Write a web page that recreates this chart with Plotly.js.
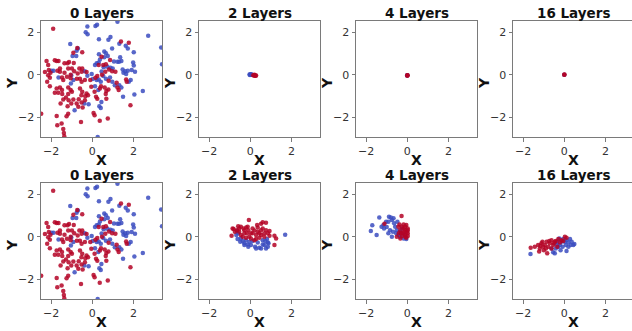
<!DOCTYPE html>
<html>
<head>
<meta charset="utf-8">
<script src="https://cdn.plot.ly/plotly-3.0.1.min.js"></script>
<style>html,body{margin:0;padding:0;background:#fff;}#chart{width:632px;height:331px;}</style>
</head>
<body>
<div id="chart"></div>
<script>
// ---- data ----
const panelTitles = ["0 Layers", "2 Layers", "4 Layers", "16 Layers", "0 Layers", "2 Layers", "4 Layers", "16 Layers"];
const xAxisTitle = "X";
const yAxisTitle = "Y";
const xTicks = [-2, 0, 2];
const yTicks = [-2, 0, 2];

// 0 Layers (input data, shown in both rows)
const l0BlueX = [1.22,-0.24,0.15,0.23,-0.32,-0.23,2.71,0.88,0.78,0.32,3.34,-1.07,-0.70,1.31,1.62,1.72,0.96,2.01,-0.76,-0.96,-0.78,0.58,0.66,0.32,0.75,0.58,0.37,1.35,1.22,1.30,1.41,1.98,2.01,3.38,-1.88,-0.37,0.21,0.13,0.31,0.73,0.88,0.99,1.47,1.59,1.72,1.91,2.07,1.51,1.64,-1.64,-1.02,-0.92,-0.24,-0.03,0.02,0.21,0.31,0.41,0.53,0.66,0.86,0.97,1.09,1.31,1.41,1.77,1.86,2.45,2.04,1.49,0.13,0.29,0.44,0.41,0.34,-0.39,-0.18,-0.86,0.26,-1.98,-1.04,0.55,1.05,0.45];
const l0BlueY = [2.50,2.27,2.30,2.35,2.00,1.91,1.83,1.78,1.65,1.67,1.28,1.45,1.24,1.46,1.37,1.24,1.24,1.06,1.13,0.88,0.88,1.09,1.01,0.96,0.88,0.82,0.72,0.82,0.61,0.61,0.65,0.58,0.44,0.49,0.19,0.17,0.54,0.46,0.58,0.38,0.33,0.30,0.25,0.17,0.19,0.22,0.14,0.09,0.03,-0.13,-0.03,-0.25,-0.05,0.03,-0.20,-0.25,-0.22,-0.33,-0.06,-0.19,-0.13,-0.33,-0.49,-0.49,-0.60,-0.33,-0.25,-0.76,-0.93,-1.04,-0.54,-0.72,-1.28,-1.56,-1.48,-1.35,-1.39,-1.67,-2.93,0.19,-0.41,0.35,0.62,0.15];
const l0RedX = [-1.90,1.39,1.77,-0.73,-0.92,-0.49,0.45,0.86,-2.22,-1.82,-1.73,-1.64,-2.14,-1.35,-1.20,-1.13,-0.63,-0.49,0.31,0.53,0.66,0.81,0.96,1.12,-2.30,-2.11,-2.03,-2.14,-2.06,-2.19,-2.06,-1.57,-1.57,-1.69,-1.47,-1.41,-1.23,-1.05,-0.75,-0.60,-1.17,-0.99,-0.88,-0.71,-0.52,-0.28,-0.36,-0.52,-0.10,0.15,0.24,0.47,0.63,0.79,1.18,1.22,1.28,1.64,1.67,1.85,0.42,0.37,0.60,0.68,0.78,-0.05,0.11,-1.73,-1.57,-1.47,-1.65,-1.82,-1.46,-1.17,-1.05,-0.99,-1.17,-0.60,-0.49,-0.53,-0.28,-0.21,-0.34,0.18,0.24,0.65,0.68,-0.92,-1.15,-1.02,-0.66,-0.52,-0.36,-0.76,-1.54,-1.20,-0.68,-0.47,-1.41,-1.28,0.06,0.11,0.36,0.75,-0.55,-1.17,-1.25,-1.73,-1.49,-1.70,-1.41,-1.38,-1.36,-2.48,-0.90,-1.05,-1.35];
const l0RedY = [2.16,1.56,1.51,1.26,1.04,1.06,0.85,0.69,0.65,0.68,0.65,0.65,0.46,0.54,0.54,0.60,0.30,0.30,0.46,0.46,0.50,0.25,0.17,0.14,0.13,0.22,0.09,-0.02,-0.14,-0.33,-0.54,0.30,0.14,0.19,-0.13,-0.25,-0.09,-0.17,-0.19,-0.19,0.30,0.30,0.17,0.06,0.14,0.13,-0.25,-0.33,-0.25,-0.14,-0.06,0.00,0.14,-0.28,-0.38,-0.60,-0.72,-0.22,-0.33,-1.43,-0.54,-0.65,-0.60,-0.76,-0.69,-0.57,-0.80,-0.65,-0.60,-0.72,-0.85,-0.85,-0.91,-0.60,-0.72,-0.80,-0.91,-0.65,-0.80,-0.96,-0.88,-0.96,-1.01,-1.04,-1.13,-0.91,-1.13,-1.17,-1.20,-1.35,-1.15,-1.31,-1.20,-1.35,-1.35,-1.48,-1.51,-1.54,-1.17,-1.07,-1.80,-1.91,-2.17,-2.06,-2.22,-1.83,-1.95,-1.94,-2.30,-2.38,-2.55,-2.74,-2.90,-1.83,0.55,0.00,0.10];

// Top row (collapsed representations)
const t2BlueX = [-0.04,0.00,0.03,0.06,-0.02,0.08];
const t2BlueY = [0.01,0.02,0.00,0.01,-0.01,0.00];
const t2RedX = [0.14,0.18,0.22,0.25,0.20,0.28];
const t2RedY = [-0.02,-0.04,-0.03,-0.05,0.00,-0.04];
const t4BlueX = [0.00,-0.01];
const t4BlueY = [-0.02,-0.03];
const t4RedX = [0.00,0.01,0.00];
const t4RedY = [-0.03,-0.02,-0.04];
const t16BlueX = [0.00];
const t16BlueY = [0.00];
const t16RedX = [0.00,0.01];
const t16RedY = [0.00,0.01];

// Bottom row
const b2BlueX = [-0.46,-0.37,-0.49,-0.29,-0.13,0.03,0.23,0.44,0.52,0.68,0.85,0.88,0.81,0.60,0.36,0.11,-0.05,-0.21,-0.62,-0.68,1.69,0.28,-0.29,-0.10,0.60,0.76,0.85,0.72,-0.59,-0.65];
const b2BlueY = [-0.08,-0.20,-0.24,-0.31,-0.36,-0.39,-0.47,-0.52,-0.55,-0.39,-0.47,-0.31,-0.11,-0.16,-0.27,-0.20,-0.24,-0.16,-0.11,0.08,0.10,-0.55,-0.39,-0.47,-0.36,-0.55,-0.27,-0.20,0.16,0.27];
const b2RedX = [-0.07,-0.91,-0.81,-0.86,-0.59,-0.46,-0.20,-0.13,0.33,0.52,0.60,0.76,0.93,0.93,1.17,1.25,1.17,0.20,0.36,0.03,-0.29,-0.37,0.52,0.68,0.76,-0.54,-0.65,-0.10,0.11,0.28,0.44,-0.05,-0.21,-0.46,-0.75,0.03,0.20,0.52,0.68,0.85,-0.54,-0.29,0.11,0.36,0.60,-0.16,-0.33,0.28,0.44];
const b2RedY = [0.79,0.05,0.36,0.39,0.50,0.47,0.43,0.47,0.55,0.61,0.68,0.66,0.27,0.05,0.05,-0.08,-0.39,0.30,0.24,0.16,0.16,0.00,0.08,0.16,0.31,0.24,0.31,0.31,0.39,0.08,-0.05,0.00,-0.05,0.08,0.24,-0.08,-0.16,0.31,0.00,0.16,0.39,0.31,0.16,0.43,0.39,0.16,0.39,-0.11,0.16];
const b4BlueX = [-1.36,-1.70,-1.77,-1.49,-1.16,-1.13,-1.00,-0.92,-0.89,-0.80,-0.75,-0.67,-0.84,-0.70,-0.59,-0.54,-0.75,-0.43,-0.34,-0.26,-0.18,-0.05,-1.03,-1.25,-0.64,-0.51,-0.92,-0.34,-0.15,-0.48];
const b4BlueY = [0.91,0.54,0.27,0.08,0.55,0.39,0.46,0.71,0.94,0.91,0.79,0.87,0.31,0.24,0.47,0.16,0.00,0.08,0.24,0.39,-0.08,-0.11,0.71,0.47,0.63,0.31,0.16,0.00,0.11,0.71];
const b4RedX = [-0.28,-1.11,-0.38,-0.43,-0.26,-0.18,-0.34,-0.10,-0.02,-0.21,0.02,-0.10,0.02,-0.26,-0.51,-0.34,-0.05,-0.15,-0.10,0.02,-0.18,-0.05,-0.31,-0.41,0.02,-0.10];
const b4RedY = [0.98,0.61,0.58,0.47,0.47,0.39,0.31,0.31,0.24,0.16,0.16,0.08,0.03,0.03,0.00,-0.08,-0.05,0.24,0.47,0.39,0.58,0.55,0.16,0.16,0.31,0.00];
const b16BlueX = [-1.64,-0.54,-0.46,-0.62,-0.37,-0.29,-0.21,-0.13,-0.05,0.03,0.11,0.20,0.28,0.36,0.44,0.49,0.11,-0.24,-0.41,-0.08,0.20,0.31,0.08,-0.18,-0.34];
const b16BlueY = [-0.81,-0.73,-0.78,-0.55,-0.36,-0.47,-0.39,-0.23,-0.11,-0.23,-0.16,-0.27,-0.11,-0.23,-0.39,-0.34,-0.67,-0.08,-0.55,-0.47,-0.47,-0.39,-0.39,-0.63,-0.23];
const b16RedX = [-1.63,-1.43,-1.27,-1.19,-1.22,-1.11,-1.02,-0.94,-0.86,-0.83,-0.70,-0.62,-0.54,-0.46,-0.34,-0.21,-0.13,0.03,0.11,-1.15,-0.99,-0.78,-0.62,-0.41,-0.29,-0.73,-0.50,-0.89,-0.05,-1.06];
const b16RedY = [-0.52,-0.47,-0.39,-0.55,-0.70,-0.31,-0.47,-0.39,-0.23,-0.78,-0.31,-0.16,-0.39,-0.23,-0.47,-0.27,-0.16,0.00,-0.05,-0.42,-0.63,-0.47,-0.55,-0.20,-0.11,-0.20,-0.31,-0.55,-0.20,-0.23];

const panels = [
  [l0BlueX, l0BlueY, l0RedX, l0RedY],
  [t2BlueX, t2BlueY, t2RedX, t2RedY],
  [t4BlueX, t4BlueY, t4RedX, t4RedY],
  [t16BlueX, t16BlueY, t16RedX, t16RedY],
  [l0BlueX, l0BlueY, l0RedX, l0RedY],
  [b2BlueX, b2BlueY, b2RedX, b2RedY],
  [b4BlueX, b4BlueY, b4RedX, b4RedY],
  [b16BlueX, b16BlueY, b16RedX, b16RedY]
];

// ---- layout ----
const W = 632, H = 331;
const colPx = [[41,162],[199,320],[356,477],[513,632]];
const rowPx = [[21,137],[183,299]];
const BLUE = "#3b4cc0", RED = "#b40426";
const FONT = "DejaVu Sans, Arial, sans-serif";

const traces = [];
const layout = {
  width: W, height: H,
  margin: {l:0, r:0, t:0, b:0},
  paper_bgcolor: "#fff", plot_bgcolor: "#fff",
  showlegend: false,
  font: {family: FONT, size: 11, color: "#222"},
  annotations: []
};

panels.forEach((p, i) => {
  const n = i + 1;
  const r = Math.floor(i / 4), c = i % 4;
  const xa = "x" + (n === 1 ? "" : n), ya = "y" + (n === 1 ? "" : n);
  [[p[0], p[1], BLUE], [p[2], p[3], RED]].forEach(s => {
    traces.push({
      type: "scatter", mode: "markers", x: s[0], y: s[1],
      xaxis: xa, yaxis: ya,
      marker: {color: s[2], size: 4.5, opacity: 0.85, line: {width: 0}},
      hoverinfo: "skip"
    });
  });
  const xd = [colPx[c][0] / W, Math.min(1, colPx[c][1] / W)];
  const yd = [1 - rowPx[r][1] / H, 1 - rowPx[r][0] / H];
  const xmax = c === 3 ? 3.29 : 3.38;
  const axCommon = {
    showgrid: false, zeroline: false,
    showline: true, linecolor: "#7a7a7a", linewidth: 1, mirror: true,
    ticks: "outside", ticklen: 3.5, tickwidth: 1, tickcolor: "#7a7a7a",
    tickfont: {family: FONT, size: 11, color: "#333"},
    fixedrange: true
  };
  layout["xaxis" + (n === 1 ? "" : n)] = Object.assign({}, axCommon, {
    domain: xd, range: [-2.49, xmax], anchor: ya, tickvals: xTicks
  });
  layout["yaxis" + (n === 1 ? "" : n)] = Object.assign({}, axCommon, {
    domain: yd, range: [-2.93, 2.53], anchor: xa, tickvals: yTicks
  });
  const cx = (colPx[c][0] + 121 / 2) / W;
  // subplot title
  layout.annotations.push({
    text: "<b>" + panelTitles[i] + "</b>",
    xref: "paper", yref: "paper",
    x: cx, y: 1 - (rowPx[r][0] - 8) / H,
    xanchor: "center", yanchor: "middle", showarrow: false,
    font: {family: FONT, size: 13.5, color: "#111"}
  });
  // x axis title
  layout.annotations.push({
    text: "<b>" + xAxisTitle + "</b>",
    xref: "paper", yref: "paper",
    x: cx, y: 1 - (rowPx[r][1] + 23) / H,
    xanchor: "center", yanchor: "middle", showarrow: false,
    font: {family: FONT, size: 14, color: "#111"}
  });
  // y axis title
  layout.annotations.push({
    text: "<b>" + yAxisTitle + "</b>",
    xref: "paper", yref: "paper",
    x: (colPx[c][0] - 29) / W, y: 1 - ((rowPx[r][0] + rowPx[r][1]) / 2 + 4) / H,
    xanchor: "center", yanchor: "middle", showarrow: false, textangle: -90,
    font: {family: FONT, size: 14, color: "#111"}
  });
});

Plotly.newPlot("chart", traces, layout, {staticPlot: true, displayModeBar: false});
</script>
</body>
</html>
